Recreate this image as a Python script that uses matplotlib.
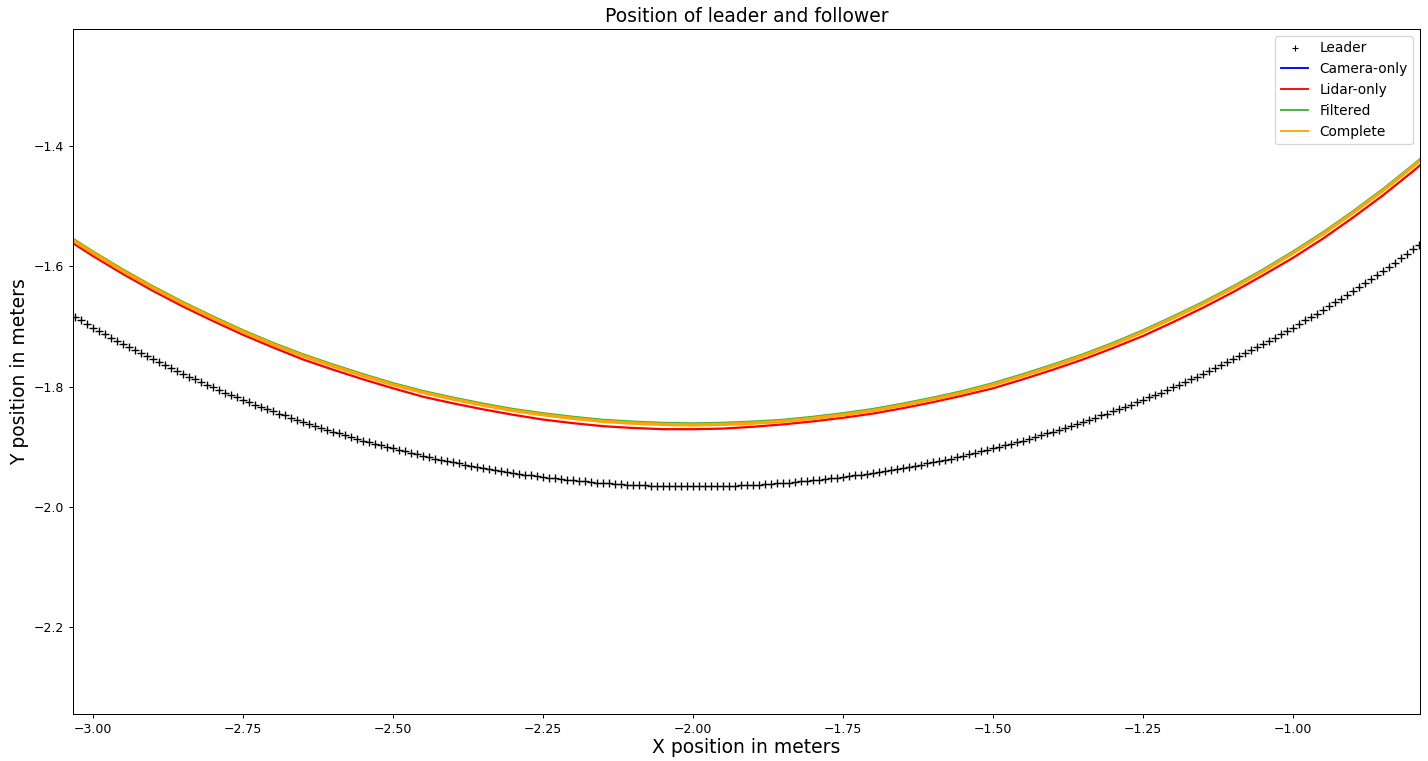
import numpy as np
import matplotlib
matplotlib.use('Agg')
import matplotlib.pyplot as plt

# leader positions (one every ~0.01 m in x)
leader_x = [
    -3.03, -3.02, -3.01, -3.00,
    -2.99, -2.98, -2.97, -2.96, -2.95, -2.94, -2.93, -2.92, -2.91, -2.90,
    -2.89, -2.88, -2.87, -2.86, -2.85, -2.84, -2.83, -2.82, -2.81, -2.80,
    -2.79, -2.78, -2.77, -2.76, -2.75, -2.74, -2.73, -2.72, -2.71, -2.70,
    -2.69, -2.68, -2.67, -2.66, -2.65, -2.64, -2.63, -2.62, -2.61, -2.60,
    -2.59, -2.58, -2.57, -2.56, -2.55, -2.54, -2.53, -2.52, -2.51, -2.50,
    -2.49, -2.48, -2.47, -2.46, -2.45, -2.44, -2.43, -2.42, -2.41, -2.40,
    -2.39, -2.38, -2.37, -2.36, -2.35, -2.34, -2.33, -2.32, -2.31, -2.30,
    -2.29, -2.28, -2.27, -2.26, -2.25, -2.24, -2.23, -2.22, -2.21, -2.20,
    -2.19, -2.18, -2.17, -2.16, -2.15, -2.14, -2.13, -2.12, -2.11, -2.10,
    -2.09, -2.08, -2.07, -2.06, -2.05, -2.04, -2.03, -2.02, -2.01, -2.00,
    -1.99, -1.98, -1.97, -1.96, -1.95, -1.94, -1.93, -1.92, -1.91, -1.90,
    -1.89, -1.88, -1.87, -1.86, -1.85, -1.84, -1.83, -1.82, -1.81, -1.80,
    -1.79, -1.78, -1.77, -1.76, -1.75, -1.74, -1.73, -1.72, -1.71, -1.70,
    -1.69, -1.68, -1.67, -1.66, -1.65, -1.64, -1.63, -1.62, -1.61, -1.60,
    -1.59, -1.58, -1.57, -1.56, -1.55, -1.54, -1.53, -1.52, -1.51, -1.50,
    -1.49, -1.48, -1.47, -1.46, -1.45, -1.44, -1.43, -1.42, -1.41, -1.40,
    -1.39, -1.38, -1.37, -1.36, -1.35, -1.34, -1.33, -1.32, -1.31, -1.30,
    -1.29, -1.28, -1.27, -1.26, -1.25, -1.24, -1.23, -1.22, -1.21, -1.20,
    -1.19, -1.18, -1.17, -1.16, -1.15, -1.14, -1.13, -1.12, -1.11, -1.10,
    -1.09, -1.08, -1.07, -1.06, -1.05, -1.04, -1.03, -1.02, -1.01, -1.00,
    -0.99, -0.98, -0.97, -0.96, -0.95, -0.94, -0.93, -0.92, -0.91, -0.90,
    -0.89, -0.88, -0.87, -0.86, -0.85, -0.84, -0.83, -0.82, -0.81, -0.80,
    -0.79,
]
leader_y = [
    -1.684, -1.690, -1.696, -1.702, -1.707, -1.713, -1.719, -1.724, -1.729, -1.735,
    -1.740, -1.745, -1.750, -1.755, -1.760, -1.765, -1.770, -1.774, -1.779, -1.784,
    -1.788, -1.793, -1.797, -1.801, -1.806, -1.810, -1.814, -1.818, -1.822, -1.826,
    -1.830, -1.834, -1.837, -1.841, -1.845, -1.848, -1.852, -1.855, -1.859, -1.862,
    -1.866, -1.869, -1.872, -1.875, -1.878, -1.881, -1.884, -1.887, -1.890, -1.893,
    -1.895, -1.898, -1.901, -1.903, -1.906, -1.908, -1.911, -1.913, -1.915, -1.918,
    -1.920, -1.922, -1.924, -1.926, -1.928, -1.930, -1.932, -1.934, -1.936, -1.937,
    -1.939, -1.941, -1.942, -1.944, -1.945, -1.947, -1.948, -1.949, -1.951, -1.952,
    -1.953, -1.954, -1.955, -1.956, -1.957, -1.958, -1.959, -1.960, -1.960, -1.961,
    -1.962, -1.962, -1.963, -1.964, -1.964, -1.964, -1.965, -1.965, -1.965, -1.966,
    -1.966, -1.966, -1.966,
    -1.966,
    -1.966, -1.966, -1.966, -1.966, -1.965, -1.965, -1.965, -1.964, -1.964, -1.964,
    -1.963, -1.962, -1.962, -1.961, -1.960, -1.960, -1.959, -1.958, -1.957, -1.956,
    -1.955, -1.954, -1.953, -1.952, -1.951, -1.949, -1.948, -1.947, -1.945, -1.944,
    -1.942, -1.941, -1.939, -1.937, -1.936, -1.934, -1.932, -1.930, -1.928, -1.926,
    -1.924, -1.922, -1.920, -1.918, -1.915, -1.913, -1.911, -1.908, -1.906, -1.903,
    -1.901, -1.898, -1.895, -1.893, -1.890, -1.887, -1.884, -1.881, -1.878, -1.875,
    -1.872, -1.869, -1.866, -1.862, -1.859, -1.855, -1.852, -1.848, -1.845, -1.841,
    -1.837, -1.834, -1.830, -1.826, -1.822, -1.818, -1.814, -1.810, -1.806, -1.801,
    -1.797, -1.793, -1.788, -1.784, -1.779, -1.774, -1.770, -1.765, -1.760, -1.755,
    -1.750, -1.745, -1.740, -1.735, -1.729, -1.724, -1.719, -1.713, -1.707, -1.702,
    -1.696, -1.690, -1.684, -1.679, -1.672, -1.666, -1.660, -1.654, -1.648, -1.641,
    -1.635, -1.628, -1.621, -1.615, -1.608, -1.601, -1.594, -1.587, -1.579, -1.572,
    -1.565,
]

# follower estimates, all sampled at the same x
follower_x = [
    -3.05, -3.00, -2.95, -2.90, -2.85, -2.80, -2.75, -2.70, -2.65, -2.60,
    -2.55, -2.50, -2.45, -2.40, -2.35, -2.30, -2.25, -2.20, -2.15, -2.10,
    -2.05, -2.00, -1.95, -1.90, -1.85, -1.80, -1.75, -1.70, -1.65, -1.60,
    -1.55, -1.50, -1.45, -1.40, -1.35, -1.30, -1.25, -1.20, -1.15, -1.10,
    -1.05, -1.00, -0.95, -0.90, -0.85, -0.80, -0.75,
]
camera_y = [
    -1.545, -1.577, -1.607, -1.635, -1.661, -1.685, -1.708, -1.729, -1.748, -1.765,
    -1.781, -1.796, -1.809, -1.820, -1.830, -1.839, -1.846, -1.852, -1.857, -1.860,
    -1.862, -1.863, -1.862, -1.860, -1.857, -1.852, -1.846, -1.839, -1.830, -1.820,
    -1.809, -1.796, -1.781, -1.765, -1.748, -1.729, -1.708, -1.685, -1.661, -1.635,
    -1.607, -1.577, -1.545, -1.510, -1.473, -1.433, -1.391,
]
lidar_y = [
    -1.551, -1.583, -1.613, -1.641, -1.667, -1.691, -1.714, -1.735, -1.755, -1.772,
    -1.788, -1.803, -1.817, -1.828, -1.838, -1.847, -1.855, -1.861, -1.866, -1.869,
    -1.871, -1.871, -1.870, -1.867, -1.863, -1.858, -1.852, -1.845, -1.836, -1.826,
    -1.815, -1.803, -1.788, -1.772, -1.755, -1.736, -1.716, -1.693, -1.669, -1.643,
    -1.615, -1.586, -1.554, -1.519, -1.482, -1.442, -1.400,
]
filtered_y = [
    -1.543, -1.575, -1.605, -1.633, -1.659, -1.683, -1.706, -1.727, -1.746, -1.763,
    -1.779, -1.794, -1.807, -1.818, -1.828, -1.837, -1.844, -1.850, -1.855, -1.858,
    -1.860, -1.861, -1.860, -1.858, -1.855, -1.850, -1.844, -1.837, -1.828, -1.818,
    -1.807, -1.794, -1.779, -1.763, -1.746, -1.727, -1.706, -1.683, -1.659, -1.633,
    -1.605, -1.575, -1.543, -1.508, -1.471, -1.431, -1.389,
]
complete_y = [
    -1.546, -1.578, -1.608, -1.636, -1.662, -1.686, -1.709, -1.730, -1.749, -1.766,
    -1.782, -1.797, -1.810, -1.821, -1.831, -1.840, -1.847, -1.853, -1.858, -1.861,
    -1.863, -1.864, -1.863, -1.861, -1.858, -1.853, -1.847, -1.840, -1.831, -1.821,
    -1.810, -1.797, -1.782, -1.766, -1.749, -1.730, -1.709, -1.686, -1.662, -1.636,
    -1.608, -1.578, -1.546, -1.511, -1.474, -1.434, -1.392,
]

x_ticks = [-3.00, -2.75, -2.50, -2.25, -2.00, -1.75, -1.50, -1.25, -1.00]
y_ticks = [-2.2, -2.0, -1.8, -1.6, -1.4]

dpi = 90
fig = plt.figure(figsize=(1428 / dpi, 761 / dpi), dpi=dpi)
ax = fig.add_axes([73 / 1428, 1 - 714 / 761, (1420 - 73) / 1428, (714 - 29) / 761])

ax.plot(leader_x, leader_y, '+', color='black', markersize=6, markeredgewidth=1.1, label='Leader')
ax.plot(follower_x, camera_y, color='blue', linewidth=1.5, label='Camera-only')
ax.plot(follower_x, lidar_y, color='red', linewidth=1.8, label='Lidar-only')
ax.plot(follower_x, filtered_y, color='#3cb43c', linewidth=1.4, label='Filtered')
ax.plot(follower_x, complete_y, color='orange', linewidth=2.7, label='Complete')

ax.set_xlim(-3.0333, -0.7883)
ax.set_ylim(-2.3447, -1.2054)
ax.set_xticks(x_ticks)
ax.set_yticks(y_ticks)
ax.tick_params(labelsize=10)

ax.set_title('Position of leader and follower', fontsize=15)
ax.set_xlabel('X position in meters', fontsize=15, labelpad=2)
ax.set_ylabel('Y position in meters', fontsize=15)

leg = ax.legend(loc='upper right', fontsize=11)
leg.get_lines()[0].set_markersize(4.5)
leg.get_lines()[0].set_markeredgewidth(0.9)
for line in leg.get_lines()[1:]:
    line.set_linewidth(1.5)

fig.savefig('out.png', dpi=dpi)
